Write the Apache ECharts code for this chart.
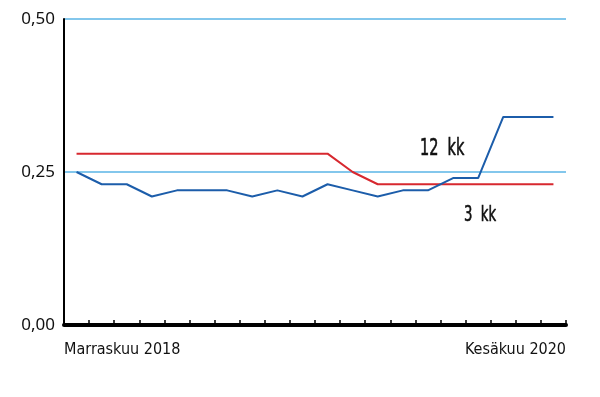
<!DOCTYPE html>
<html>
<head>
<meta charset="utf-8">
<script src="https://cdn.jsdelivr.net/npm/echarts@6/dist/echarts.min.js"></script>
<style>
  html, body { margin: 0; padding: 0; background: #fff; }
  #chart { width: 600px; height: 397px; }
</style>
</head>
<body>
<div id="chart"></div>
<script>
// kuukaudet marraskuu 2018 - kesäkuu 2020
const months = [
  'Marraskuu 2018', 'Joulukuu 2018', 'Tammikuu 2019', 'Helmikuu 2019', 'Maaliskuu 2019',
  'Huhtikuu 2019', 'Toukokuu 2019', 'Kesäkuu 2019', 'Heinäkuu 2019', 'Elokuu 2019',
  'Syyskuu 2019', 'Lokakuu 2019', 'Marraskuu 2019', 'Joulukuu 2019', 'Tammikuu 2020',
  'Helmikuu 2020', 'Maaliskuu 2020', 'Huhtikuu 2020', 'Toukokuu 2020', 'Kesäkuu 2020'
];
const blueValues = [0.25, 0.23, 0.23, 0.21, 0.22, 0.22, 0.22, 0.21, 0.22, 0.21,
                    0.23, 0.22, 0.21, 0.22, 0.22, 0.24, 0.24, 0.34, 0.34, 0.34];
const redValues = [0.28, 0.28, 0.28, 0.28, 0.28, 0.28, 0.28, 0.28, 0.28, 0.28,
                   0.28, 0.25, 0.23, 0.23, 0.23, 0.23, 0.23, 0.23, 0.23, 0.23];
const yTicks = [0, 0.25, 0.5];

const narrow = '"DejaVu Sans Condensed", sans-serif';

// pisteet kuukauden keskelle
const toPoints = arr => arr.map((v, i) => [i + 0.5, v]);

const chart = echarts.init(document.getElementById('chart'));
chart.setOption({
  animation: false,
  grid: { left: 64, right: 34, top: 19, bottom: 72 },
  xAxis: {
    type: 'value',
    min: 0,
    max: months.length,
    interval: 1,
    splitLine: { show: false },
    axisLine: { show: true, lineStyle: { color: '#000', width: 4 } },
    axisTick: { show: true, inside: true, length: 5, lineStyle: { color: '#000', width: 1.5 } },
    axisLabel: {
      margin: 17,
      fontFamily: narrow,
      fontSize: 16,
      color: '#111',
      showMinLabel: true,
      showMaxLabel: true,
      alignMinLabel: 'left',
      alignMaxLabel: 'right',
      formatter: v => v === 0 ? months[0] : (v === months.length ? months[months.length - 1] : '')
    }
  },
  yAxis: {
    type: 'value',
    min: yTicks[0],
    max: yTicks[yTicks.length - 1],
    interval: 0.25,
    axisLine: { show: true, lineStyle: { color: '#000', width: 2 } },
    axisTick: { show: false },
    splitLine: { show: true, lineStyle: { color: '#5ab4e6', width: 1.5 } },
    axisLabel: {
      margin: 9,
      fontFamily: '"Noto Sans", sans-serif',
      fontSize: 17,
      color: '#111',
      formatter: v => v.toFixed(2).replace('.', ',')
    }
  },
  series: [
    {
      name: '12 kk',
      type: 'line',
      data: toPoints(redValues),
      symbol: 'none',
      lineStyle: { color: '#d7282f', width: 2 },
      z: 3
    },
    {
      name: '3 kk',
      type: 'line',
      data: toPoints(blueValues),
      symbol: 'none',
      lineStyle: { color: '#1c5daa', width: 2 },
      z: 4
    }
  ],
  graphic: [
    { type: 'text', x: 420, y: 138, scaleX: 0.7,
      style: { text: '12  kk', font: '23px ' + narrow, fill: '#111', stroke: '#111', lineWidth: 0.6 } },
    { type: 'text', x: 464, y: 205, scaleX: 0.7,
      style: { text: '3  kk', font: '21px ' + narrow, fill: '#111', stroke: '#111', lineWidth: 0.6 } }
  ]
});
</script>
</body>
</html>
